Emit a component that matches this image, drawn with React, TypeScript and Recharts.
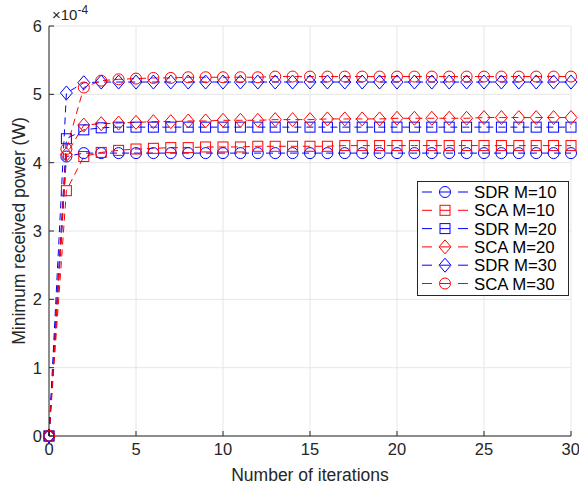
import React from 'react'
import { LineChart, Line, XAxis, YAxis, CartesianGrid } from 'recharts'

// values in units of 1e-4 W
const iterations = [0, 1, 2, 3, 4, 5, 6, 7, 8, 9, 10, 11, 12, 13, 14, 15, 16, 17, 18, 19, 20, 21, 22, 23, 24, 25, 26, 27, 28, 29, 30]
const sdrM10 = [0, 4.09, 4.14, 4.14, 4.14, 4.14, 4.14, 4.14, 4.14, 4.14, 4.14, 4.14, 4.14, 4.14, 4.14, 4.14, 4.14, 4.14, 4.14, 4.14, 4.14, 4.14, 4.14, 4.14, 4.14, 4.14, 4.14, 4.14, 4.14, 4.14, 4.14]
const scaM10 = [0, 3.59, 4.09, 4.15, 4.18, 4.2, 4.21, 4.22, 4.22, 4.23, 4.23, 4.23, 4.24, 4.24, 4.24, 4.24, 4.24, 4.25, 4.25, 4.25, 4.25, 4.25, 4.25, 4.25, 4.25, 4.25, 4.25, 4.25, 4.25, 4.25, 4.25]
const sdrM20 = [0, 4.35, 4.48, 4.51, 4.52, 4.52, 4.52, 4.52, 4.52, 4.52, 4.52, 4.52, 4.52, 4.52, 4.52, 4.52, 4.52, 4.52, 4.52, 4.52, 4.52, 4.52, 4.52, 4.52, 4.52, 4.52, 4.52, 4.52, 4.52, 4.52, 4.52]
const scaM20 = [0, 4.12, 4.55, 4.57, 4.58, 4.59, 4.6, 4.6, 4.61, 4.61, 4.62, 4.62, 4.62, 4.63, 4.63, 4.63, 4.64, 4.64, 4.64, 4.64, 4.65, 4.65, 4.65, 4.65, 4.65, 4.66, 4.66, 4.66, 4.66, 4.66, 4.66]
const sdrM30 = [0, 5.02, 5.17, 5.18, 5.18, 5.18, 5.18, 5.18, 5.18, 5.18, 5.18, 5.18, 5.18, 5.18, 5.18, 5.18, 5.18, 5.18, 5.18, 5.18, 5.18, 5.18, 5.18, 5.18, 5.18, 5.18, 5.18, 5.18, 5.18, 5.18, 5.18]
const scaM30 = [0, 4.2, 5.1, 5.2, 5.22, 5.23, 5.24, 5.24, 5.25, 5.25, 5.25, 5.25, 5.25, 5.26, 5.26, 5.26, 5.26, 5.26, 5.26, 5.26, 5.26, 5.26, 5.26, 5.26, 5.26, 5.26, 5.26, 5.26, 5.26, 5.26, 5.26]

const xTicks = [0, 5, 10, 15, 20, 25, 30]
const yTicks = [0, 1, 2, 3, 4, 5, 6]

type Shape = 'circle' | 'square' | 'diamond'

const series: { key: string; name: string; color: string; shape: Shape }[] = [
  { key: 'sdr10', name: 'SDR M=10', color: '#0000ff', shape: 'circle' },
  { key: 'sca10', name: 'SCA M=10', color: '#ff0000', shape: 'square' },
  { key: 'sdr20', name: 'SDR M=20', color: '#0000ff', shape: 'square' },
  { key: 'sca20', name: 'SCA M=20', color: '#ff0000', shape: 'diamond' },
  { key: 'sdr30', name: 'SDR M=30', color: '#0000ff', shape: 'diamond' },
  { key: 'sca30', name: 'SCA M=30', color: '#ff0000', shape: 'circle' },
]

const data = iterations.map((it, i) => ({
  it,
  sdr10: sdrM10[i],
  sca10: scaM10[i],
  sdr20: sdrM20[i],
  sca20: scaM20[i],
  sdr30: sdrM30[i],
  sca30: scaM30[i],
}))

const FONT = '"Liberation Sans", Arial, sans-serif'
const AXIS = '#262626'

function Marker({ cx, cy, shape, color }: { cx: number; cy: number; shape: Shape; color: string }) {
  if (cx == null || cy == null) return null
  if (shape === 'circle') return <circle cx={cx} cy={cy} r={5.5} fill="none" stroke={color} strokeWidth={1} />
  if (shape === 'square') return <rect x={cx - 5} y={cy - 5} width={10} height={10} fill="none" stroke={color} strokeWidth={1} />
  return <polygon points={`${cx},${cy - 7} ${cx + 6},${cy} ${cx},${cy + 7} ${cx - 6},${cy}`} fill="none" stroke={color} strokeWidth={1} />
}

function LegendBox() {
  return (
    <svg width={579} height={485} style={{ position: 'absolute', left: 0, top: 0, pointerEvents: 'none' }}>
      <text x={52} y={20} fontFamily={FONT} fontSize={15} fill={AXIS}>
        ×10<tspan dy={-6} fontSize={12}>-4</tspan>
      </text>
      <rect x={417.5} y={181.5} width={151} height={114} fill="#fff" stroke={AXIS} strokeWidth={1} />
      {series.map((s, i) => {
        const y = 192 + i * 18.3
        return (
          <g key={s.key}>
            <line x1={422} x2={468} y1={y} y2={y} stroke={s.color} strokeDasharray="10 8" />
            <Marker cx={445} cy={y} shape={s.shape} color={s.color} />
            <text x={474} y={y + 6} fontFamily={FONT} fontSize={16.8} fill="#000">{s.name}</text>
          </g>
        )
      })}
    </svg>
  )
}

export default function App() {
  return (
    <div style={{ position: 'absolute', left: 0, top: 0, width: 579, height: 485, background: '#fff' }}>
      <LineChart width={579} height={485} data={data} margin={{ top: 26, right: 8, bottom: 0, left: 0 }}>
        <CartesianGrid stroke="#e6e6e6" horizontalValues={yTicks} verticalValues={xTicks} />
        <XAxis
          dataKey="it"
          type="number"
          domain={[0, 30]}
          ticks={xTicks}
          height={49}
          stroke={AXIS}
          tickSize={-5}
          tickMargin={12}
          tick={{ fill: AXIS, fontSize: 16.5, fontFamily: FONT }}
          label={{ value: 'Number of iterations', position: 'insideBottom', offset: 4, fill: AXIS, fontSize: 17.5, fontFamily: FONT }}
        />
        <XAxis xAxisId="top" orientation="top" type="number" domain={[0, 30]} ticks={xTicks} height={0} stroke={AXIS} tickSize={-5} tick={false} />
        <YAxis
          type="number"
          domain={[0, 6]}
          ticks={yTicks}
          width={49}
          stroke={AXIS}
          tickSize={-5}
          tickMargin={12}
          tick={{ fill: AXIS, fontSize: 16.5, fontFamily: FONT }}
          label={{ value: 'Minimum received power (W)', angle: -90, position: 'insideLeft', offset: 19, style: { textAnchor: 'middle' }, fill: AXIS, fontSize: 17.5, fontFamily: FONT }}
        />
        <YAxis yAxisId="right" orientation="right" type="number" domain={[0, 6]} ticks={yTicks} width={0} stroke={AXIS} tickSize={-5} tick={false} />
        {series.map((s) => (
          <Line
            key={s.key}
            dataKey={s.key}
            name={s.name}
            type="linear"
            stroke={s.color}
            strokeWidth={1}
            strokeDasharray="7 5"
            isAnimationActive={false}
            dot={(p: any) => <Marker key={`${s.key}-${p.index}`} cx={p.cx} cy={p.cy} shape={s.shape} color={s.color} />}
            activeDot={false}
          />
        ))}
      </LineChart>
      <LegendBox />
    </div>
  )
}
